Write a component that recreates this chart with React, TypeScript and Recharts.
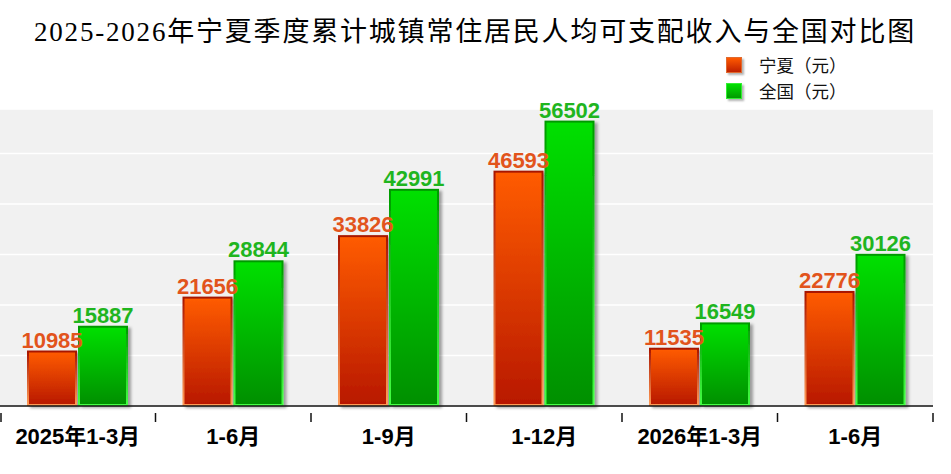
import React from 'react';
import {
  BarChart,
  Bar,
  XAxis,
  YAxis,
  CartesianGrid,
  LabelList,
} from 'recharts';

const categories = ['2025年1-3月', '1-6月', '1-9月', '1-12月', '2026年1-3月', '1-6月'];
const ningxia = [10985, 21656, 33826, 46593, 11535, 22776];
const national = [15887, 28844, 42991, 56502, 16549, 30126];
const yTicks = [0, 10000, 20000, 30000, 40000, 50000];

const data = categories.map((name, i) => ({ name, ningxia: ningxia[i], national: national[i] }));

const W = 951;
const H = 474;
const PLOT_RIGHT = 18;
const BAND = (W - PLOT_RIGHT) / categories.length;

const barShape = (fillId: string, strokeId: string) => (props: any) => {
  const { x, y, width, height } = props;
  return (
    <rect
      x={x + 1}
      y={y + 1}
      width={width - 2}
      height={Math.max(height - 2, 0)}
      fill={`url(#${fillId})`}
      stroke={`url(#${strokeId})`}
      strokeWidth={2}
      filter="url(#barShadow)"
    />
  );
};

const AxisTick = (props: any) => {
  const { x, y, payload, index } = props;
  const last = index === categories.length - 1;
  const lx = x - BAND / 2 + (index === 0 ? 1 : 0);
  return (
    <g>
      <line x1={lx} x2={lx} y1={y - 1} y2={y + 8} stroke="#111" strokeWidth={1.5} />
      {last && <line x1={x + BAND / 2} x2={x + BAND / 2} y1={y - 1} y2={y + 8} stroke="#111" strokeWidth={1.5} />}
      <text
        x={x}
        y={y + 30}
        textAnchor="middle"
        fontSize={22}
        fontWeight="bold"
        fill="#000"
        fontFamily="'Liberation Sans', Arial, 'Noto Sans CJK SC', sans-serif"
      >
        {payload.value}
      </text>
    </g>
  );
};

const LegendBox = () => (
  <div
    style={{
      position: 'absolute',
      left: 726,
      top: 52,
      fontFamily: "'Noto Sans CJK SC', sans-serif",
      fontSize: 17.5,
      color: '#111',
      lineHeight: '26px',
    }}
  >
    {[
      { label: '宁夏（元）', top: '#ff5a00', bottom: '#c02000', border: '#e06a30' },
      { label: '全国（元）', top: '#00e000', bottom: '#009a00', border: '#33ee33' },
    ].map((it) => (
      <div key={it.label} style={{ display: 'flex', alignItems: 'center' }}>
        <span
          style={{
            display: 'inline-block',
            width: 14,
            height: 14,
            background: `linear-gradient(${it.top}, ${it.bottom})`,
            border: `1px solid ${it.border}`,
            boxShadow: '2px 2px 2px rgba(0,0,0,0.3)',
            marginRight: 17,
          }}
        />
        <span>{it.label}</span>
      </div>
    ))}
  </div>
);

export default function App() {
  return (
    <div style={{ position: 'absolute', left: 0, top: 0, width: W, height: H, background: '#fff' }}>
      <div
        style={{
          position: 'absolute',
          left: 0,
          top: 14,
          width: 950,
          textAlign: 'center',
          fontFamily: "'Liberation Serif', 'DejaVu Serif', 'Noto Sans CJK SC', serif",
          fontSize: 27,
          letterSpacing: 1.8,
          lineHeight: '36px',
          color: '#000',
          whiteSpace: 'nowrap',
        }}
      >
        2025-2026年宁夏季度累计城镇常住居民人均可支配收入与全国对比图
      </div>
      <LegendBox />
      <BarChart
        width={W}
        height={H}
        data={data}
        margin={{ top: 109, right: PLOT_RIGHT, left: 0, bottom: 0 }}
        barSize={50}
        barGap={1}
      >
        <defs>
          <linearGradient id="redFill" x1="0" y1="0" x2="0" y2="1">
            <stop offset="0%" stopColor="#ff5c00" />
            <stop offset="100%" stopColor="#b81800" />
          </linearGradient>
          <linearGradient id="redStroke" x1="0" y1="0" x2="0" y2="1">
            <stop offset="0%" stopColor="#a81500" />
            <stop offset="100%" stopColor="#ff9a55" />
          </linearGradient>
          <linearGradient id="greenFill" x1="0" y1="0" x2="0" y2="1">
            <stop offset="0%" stopColor="#00e000" />
            <stop offset="100%" stopColor="#008f00" />
          </linearGradient>
          <linearGradient id="greenStroke" x1="0" y1="0" x2="0" y2="1">
            <stop offset="0%" stopColor="#009a00" />
            <stop offset="100%" stopColor="#44ff44" />
          </linearGradient>
          <filter id="barShadow" x="-20%" y="-20%" width="140%" height="140%">
            <feDropShadow dx="3" dy="2" stdDeviation="1.5" floodColor="#000" floodOpacity="0.35" />
          </filter>
        </defs>
        <CartesianGrid fill="#f1f1f1" stroke="#ffffff" strokeWidth={1.5} vertical={false} />
        <YAxis hide domain={[0, 58800]} ticks={yTicks} />
        <XAxis
          dataKey="name"
          height={68}
          interval={0}
          tickLine={false}
          axisLine={{ stroke: '#111', strokeWidth: 1.5 }}
          tick={<AxisTick />}
        />
        <Bar dataKey="ningxia" isAnimationActive={false} shape={barShape('redFill', 'redStroke')}>
          <LabelList
            dataKey="ningxia"
            position="top"
            offset={3}
            fill="#e2541c"
            fontSize={22}
            fontWeight="bold"
            fontFamily="'Liberation Sans', Arial, sans-serif"
          />
        </Bar>
        <Bar dataKey="national" isAnimationActive={false} shape={barShape('greenFill', 'greenStroke')}>
          <LabelList
            dataKey="national"
            position="top"
            offset={3}
            fill="#1fb51f"
            fontSize={22}
            fontWeight="bold"
            fontFamily="'Liberation Sans', Arial, sans-serif"
          />
        </Bar>
      </BarChart>
    </div>
  );
}
